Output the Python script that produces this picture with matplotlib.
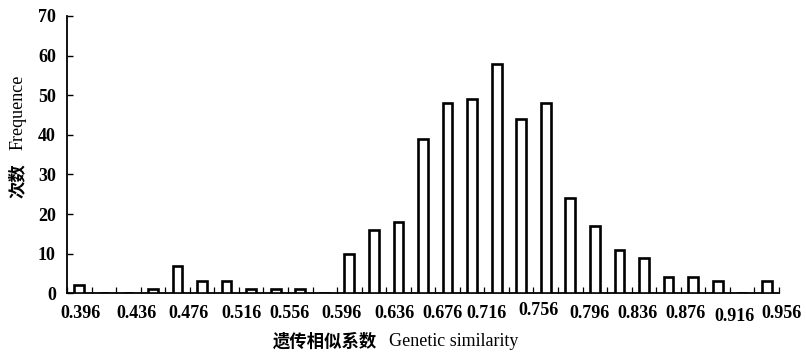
import matplotlib
matplotlib.use("Agg")
import matplotlib.pyplot as plt
import matplotlib.transforms as mtransforms
import numpy as np

# Data
categories = [f"{0.396 + 0.02 * i:.3f}" for i in range(29)]
frequencies = [2, 0, 0, 1, 7, 3, 3, 1, 1, 1, 0, 10, 16, 18, 39, 48, 49, 58,
               44, 48, 24, 17, 11, 9, 4, 4, 3, 0, 3]
tick_labels = ["0.396", "0.436", "0.476", "0.516", "0.556", "0.596", "0.636",
               "0.676", "0.716", "0.756", "0.796", "0.836", "0.876", "0.916",
               "0.956"]
label_cat_index = list(range(0, 29, 2))
label_x_shift = [0.05, 0.35, 0.45, 0.6, 0.55, 0.7, 0.85, 0.8, 0.6, 0.7, 0.8,
                 0.75, 0.7, 0.7, 0.6]
label_y_shift_px = [0, 0, 0, 0, 0, 0, 0, 0, 0, 3, 0, 0, 0, -3, 0]
yticks = [0, 10, 20, 30, 40, 50, 60, 70]

W, H = 806, 355
fig = plt.figure(figsize=(W / 100, H / 100), dpi=100)
ax = fig.add_axes([67 / W, (H - 293.3) / H, (779 - 67) / W, (293.3 - 16) / H])

x = np.arange(len(categories))
ax.bar(x, frequencies, width=0.40, facecolor="white", edgecolor="black",
       linewidth=1.9, zorder=3)

ax.set_xlim(-0.5, len(categories) - 0.5)
ax.set_ylim(0, 70)

for s in ["top", "right"]:
    ax.spines[s].set_visible(False)
for s in ["left", "bottom"]:
    ax.spines[s].set_linewidth(1.3)

# x tick marks at category boundaries, pointing up
ax.set_xticks(np.arange(-0.5, len(categories) + 0.5, 1.0))
ax.set_xticklabels([])
ax.tick_params(axis="x", direction="in", length=4, width=0.9)

# y ticks
ax.set_yticks(yticks)
ax.set_yticklabels([str(v) for v in yticks], fontfamily="Liberation Serif",
                   fontweight="bold", fontsize=13)
ax.tick_params(axis="y", direction="in", length=4, width=1.0, pad=8)

# x tick labels (hand-placed as in the original)
for lab, ci, dx, dy in zip(tick_labels, label_cat_index, label_x_shift,
                           label_y_shift_px):
    trans = ax.get_xaxis_transform() + mtransforms.ScaledTranslation(
        0, (-12 + dy) / 100, fig.dpi_scale_trans)
    ax.text(ci + dx, 0, lab, transform=trans, ha="center", va="top",
            fontfamily="Liberation Serif", fontweight="bold", fontsize=13)

# axis titles
fig.text(377 / W, 1 - 342 / H, "遗传相似系数", ha="right", va="center",
         fontfamily="Noto Sans CJK SC", fontweight="bold", fontsize=12.5)
fig.text(389 / W, 1 - 342 / H, "Genetic similarity", ha="left", va="center",
         fontfamily="Liberation Serif", fontsize=13)
fig.text(18 / W, 1 - 181 / H, "次数", ha="center", va="center", rotation=90,
         fontfamily="Noto Sans CJK SC", fontweight="bold", fontsize=12.5)
fig.text(18 / W, 1 - 112 / H, "Frequence", ha="center", va="center",
         rotation=90, fontfamily="Liberation Serif", fontsize=13)

fig.savefig("out.png", dpi=100)
